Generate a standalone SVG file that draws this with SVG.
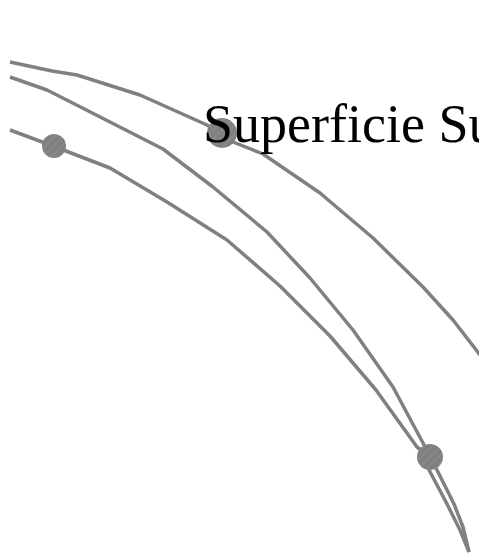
<svg xmlns="http://www.w3.org/2000/svg" width="479" height="554" viewBox="0 0 479 554">
<style>
.c{fill:none;stroke:#808080;stroke-width:3.5;stroke-linejoin:round;stroke-linecap:butt}
.n{fill:url(#h);stroke:none}
.t{font-family:"Liberation Serif","Times New Roman",serif;font-size:54px;fill:#000}
</style>
<defs>
<pattern id="h" patternUnits="userSpaceOnUse" width="6" height="6" patternTransform="rotate(-45)">
<rect width="6" height="6" fill="#808080"/>
<line x1="0" y1="3" x2="6" y2="3" stroke="#9a9a9a" stroke-width="0.6"/>
</pattern>
</defs>
<g id="connectors">
<polyline class="c" points="10,62 52,71 77,75 140,95 207,125 233,142 263,154 320,193 373,238 423,287 453,320 480,355"/>
<polyline class="c" points="10,77 47,90 110,122 163,149 213,187 267,232 310,278 353,330 393,387 423,443 430,457 438,472 454,504 463,527 469,552"/>
<polyline class="c" points="10,130 53,146 110,168 167,202 227,240 280,286 330,336 376,390 417,447 430,457 428,468 446,502 460,530 469,552"/>
</g>
<g id="node1"><circle class="n" cx="54" cy="146" r="12"/></g>
<g id="node2"><circle class="n" cx="222" cy="133" r="15"/></g>
<g id="node3"><circle class="n" cx="430" cy="457" r="13"/></g>
<g id="label"><text class="t" x="203" y="142">Superficie Su</text></g>
</svg>
